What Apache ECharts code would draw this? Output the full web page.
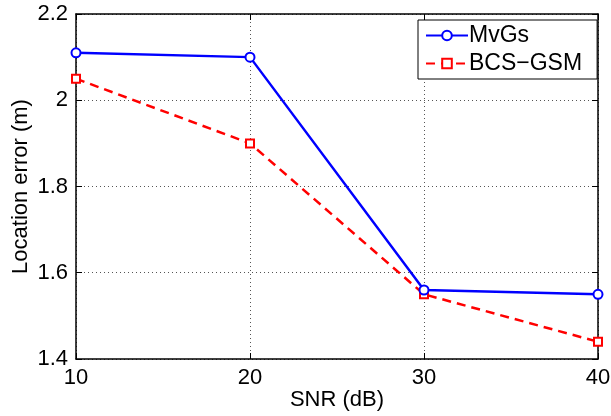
<!DOCTYPE html>
<html>
<head>
<meta charset="utf-8">
<script src="https://cdn.jsdelivr.net/npm/echarts@6/dist/echarts.min.js"></script>
<style>html,body{margin:0;padding:0;background:#fff}#c{width:611px;height:416px}</style>
</head>
<body>
<div id="c"></div>
<script>
var snr = [10, 20, 30, 40];
var mvgs = [2.11, 2.10, 1.56, 1.55];
var bcsgsm = [2.05, 1.90, 1.55, 1.44];
var seriesNames = ['MvGs', 'BCS\u2212GSM'];
var xTicks = [10, 20, 30, 40];

function pairs(xs, ys) { return xs.map(function (x, i) { return [x, ys[i]]; }); }
var font = 'Liberation Sans, Arial, Helvetica, sans-serif';
var chart = echarts.init(document.getElementById('c'), null, {renderer: 'canvas'});
var gridLine = {show: true, lineStyle: {color: '#555', type: [1, 3], width: 1}};
chart.setOption({
  animation: false,
  backgroundColor: '#fff',
  grid: {left: 76, right: 13, top: 14, bottom: 57, containLabel: false, outerBoundsMode: 'none'},
  legend: {
    show: true, left: 418, top: 20, orient: 'vertical',
    backgroundColor: '#fff', borderColor: '#000', borderWidth: 1, borderRadius: 0,
    padding: [4, 15, 4, 7], itemGap: 5, itemWidth: 42, itemHeight: 12,
    textStyle: {fontFamily: font, fontSize: 23, color: '#000', padding: [0, 0, 0, -4]},
    data: seriesNames
  },
  xAxis: [{
    type: 'value', min: 10, max: 40, interval: 10,
    name: 'SNR (dB)', nameLocation: 'middle', nameGap: 30, nameMoveOverlap: false,
    nameTextStyle: {fontFamily: font, fontSize: 22, color: '#000'},
    axisLine: {show: true, lineStyle: {color: '#000', width: 1.5}},
    axisTick: {show: true, inside: true, length: 6, lineStyle: {color: '#000'}},
    axisLabel: {fontFamily: font, fontSize: 22, color: '#000', margin: 8,
      formatter: function (v) { return xTicks.indexOf(v) >= 0 ? String(v) : ''; }},
    splitLine: gridLine
  }, {
    type: 'value', min: 10, max: 40, interval: 10, position: 'top',
    axisLine: {show: true, lineStyle: {color: '#000', width: 1.5}},
    axisTick: {show: true, inside: true, length: 6, lineStyle: {color: '#000'}},
    axisLabel: {show: false}, splitLine: {show: false}
  }],
  yAxis: [{
    type: 'value', min: 1.4, max: 2.2, interval: 0.2,
    name: 'Location error (m)', nameLocation: 'middle', nameGap: 44, nameRotate: 90, nameMoveOverlap: false,
    nameTextStyle: {fontFamily: font, fontSize: 22, color: '#000'},
    axisLine: {show: true, lineStyle: {color: '#000', width: 1.5}},
    axisTick: {show: true, inside: true, length: 6, lineStyle: {color: '#000'}},
    axisLabel: {fontFamily: font, fontSize: 22, color: '#000', margin: 8,
      formatter: function (v) { return String(Number(v.toFixed(1))); }},
    splitLine: gridLine
  }, {
    type: 'value', min: 1.4, max: 2.2, interval: 0.2, position: 'right',
    axisLine: {show: true, lineStyle: {color: '#000', width: 1.5}},
    axisTick: {show: true, inside: true, length: 6, lineStyle: {color: '#000'}},
    axisLabel: {show: false}, splitLine: {show: false}
  }],
  series: [{
    name: seriesNames[0], type: 'line', data: pairs(snr, mvgs),
    symbol: 'emptyCircle', symbolSize: 9, showAllSymbol: true,
    lineStyle: {color: '#0000ff', width: 2.5},
    itemStyle: {color: '#0000ff', borderColor: '#0000ff', borderWidth: 2}, z: 3
  }, {
    name: seriesNames[1], type: 'line', data: pairs(snr, bcsgsm),
    symbol: 'emptyRect', symbolSize: 8, showAllSymbol: true,
    lineStyle: {color: '#ff0000', width: 2.5, type: [9, 6]},
    itemStyle: {color: '#ff0000', borderColor: '#ff0000', borderWidth: 2}, z: 2
  }]
});
</script>
</body>
</html>
